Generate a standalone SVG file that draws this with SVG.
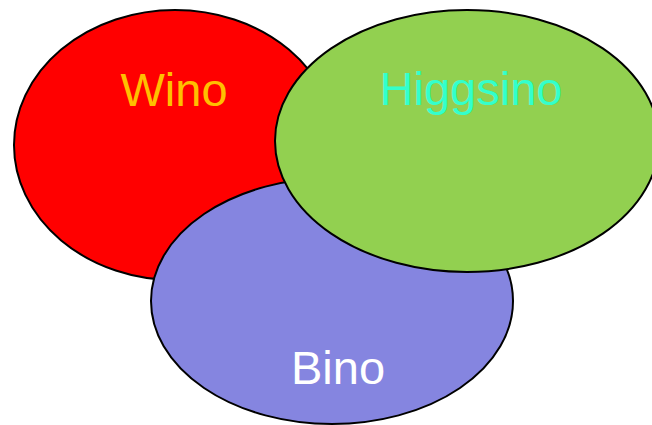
<svg xmlns="http://www.w3.org/2000/svg" width="652" height="425" viewBox="0 0 652 425">
  <style>
    .set { stroke: #000; stroke-width: 2; }
    .label { font-family: "Liberation Sans", Arial, sans-serif; font-size: 47px; text-anchor: middle; }
  </style>
  <rect width="652" height="425" fill="#fff"/>
  <g id="wino">
    <ellipse class="set" cx="175" cy="145" rx="161" ry="135" fill="#FF0000"/>
    <text class="label" x="174" y="106" fill="#FFC000">Wino</text>
  </g>
  <g id="bino">
    <ellipse class="set" cx="332" cy="301" rx="181" ry="123" fill="#8585E0"/>
    <text class="label" x="338" y="384" fill="#FFFFFF">Bino</text>
  </g>
  <g id="higgsino">
    <ellipse class="set" cx="467" cy="141" rx="192" ry="131" fill="#92D050"/>
    <text class="label" x="471" y="105" fill="#33FFCC">Higgsino</text>
  </g>
  <g id="connectors"></g>
</svg>
